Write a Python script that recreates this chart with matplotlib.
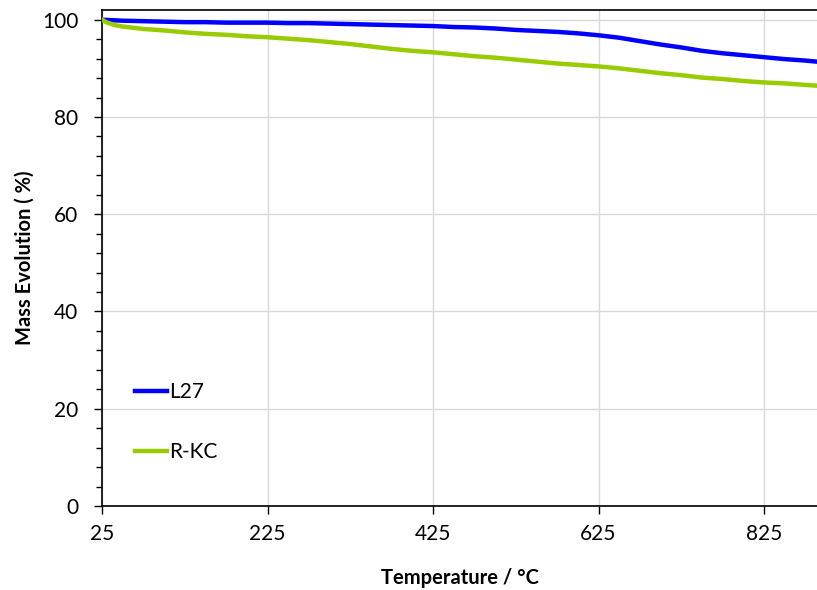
import matplotlib.pyplot as plt
from matplotlib.ticker import MultipleLocator, FixedLocator

plt.rcParams['font.family'] = ['Lato', 'DejaVu Sans']

# TGA curves
temp_l27 = [25, 50, 75, 100, 125, 150, 175, 200, 225, 250, 275, 300, 325, 350,
            375, 400, 425, 450, 475, 500, 525, 550, 575, 600, 625, 650, 675,
            700, 725, 750, 775, 800, 825, 850, 875, 900]
mass_l27 = [100.0, 99.8, 99.7, 99.6, 99.5, 99.5, 99.4, 99.4, 99.4, 99.3, 99.3,
            99.2, 99.1, 99.0, 98.9, 98.8, 98.7, 98.5, 98.4, 98.2, 97.9, 97.7,
            97.5, 97.2, 96.8, 96.3, 95.6, 94.9, 94.3, 93.6, 93.1, 92.7, 92.3,
            91.9, 91.6, 91.2]

temp_rkc = [25, 30, 40, 50, 75, 100, 125, 150, 175, 200, 225, 250, 275, 300,
            325, 350, 375, 400, 425, 450, 475, 500, 525, 550, 575, 600, 625,
            650, 675, 700, 725, 750, 775, 800, 825, 850, 875, 900]
mass_rkc = [100.0, 99.5, 98.9, 98.6, 98.1, 97.8, 97.4, 97.1, 96.9, 96.6, 96.4,
            96.1, 95.8, 95.4, 95.0, 94.5, 94.0, 93.6, 93.3, 92.9, 92.5, 92.2,
            91.8, 91.4, 91.0, 90.7, 90.4, 90.0, 89.5, 89.0, 88.6, 88.1, 87.8,
            87.4, 87.1, 86.9, 86.6, 86.3]

x_ticks = [25, 225, 425, 625, 825]
y_ticks = [0, 20, 40, 60, 80, 100]

fig = plt.figure(figsize=(8.17, 5.90), dpi=100)
ax = fig.add_axes([102 / 817, 1 - 506 / 590, 1 - 102 / 817, 496 / 590])

ax.plot(temp_l27, mass_l27, color='#0000FF', lw=3.2, label='L27', zorder=3)
ax.plot(temp_rkc, mass_rkc, color='#99CC00', lw=3.2, label='R-KC', zorder=3)

ax.set_xlim(25, 889)
ax.set_ylim(0, 102)
ax.xaxis.set_major_locator(FixedLocator(x_ticks))
ax.yaxis.set_major_locator(FixedLocator(y_ticks))
ax.yaxis.set_minor_locator(MultipleLocator(4))
ax.grid(True, which='major', color='#D9D9D9', lw=1)
ax.set_axisbelow(True)

ax.spines['right'].set_visible(False)
for s in ['left', 'bottom', 'top']:
    ax.spines[s].set_color('black')
    ax.spines[s].set_linewidth(1.2)

ax.tick_params(axis='both', which='major', direction='out', length=6,
               width=1, labelsize=15, colors='black')
ax.tick_params(axis='y', which='minor', direction='out', length=4.3, width=1)
ax.tick_params(axis='x', pad=7)
ax.tick_params(axis='y', pad=11)

ax.set_xlabel('Temperature / °C', fontsize=14.5, fontweight='bold', labelpad=17)
ax.set_ylabel('Mass Evolution ( %)', fontsize=14.5, fontweight='bold', labelpad=5)

ax.legend(loc='lower left', bbox_to_anchor=(0.02, 0.05), frameon=False,
          fontsize=15, handlelength=1.55, handletextpad=0.1, labelspacing=1.95)

fig.savefig('out.png', dpi=100)
